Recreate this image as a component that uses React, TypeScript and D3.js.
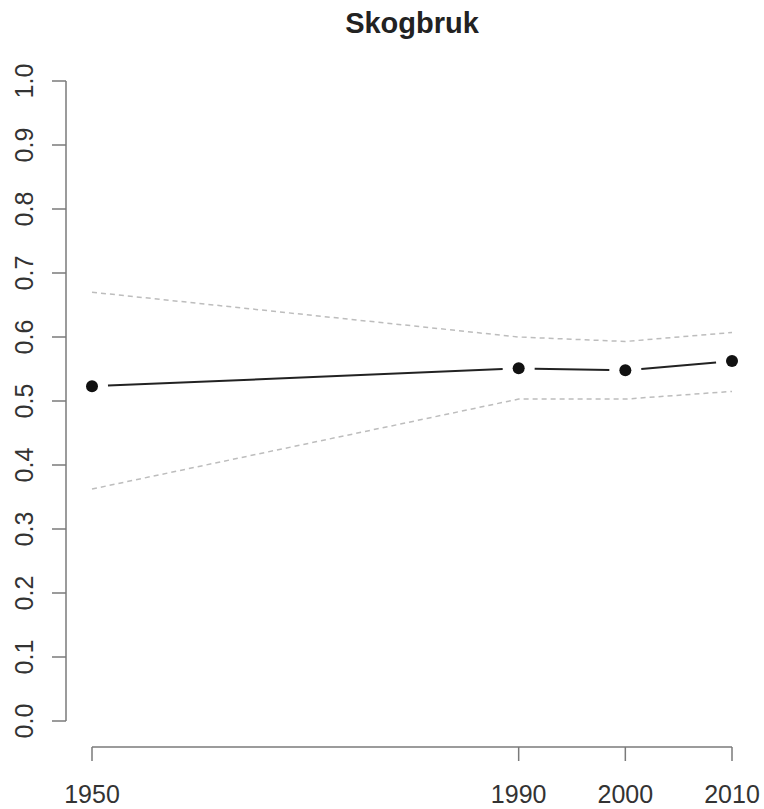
import React from "react";
import * as d3 from "d3";

const years = [1950, 1990, 2000, 2010];
const estimate = [0.523, 0.551, 0.548, 0.5625];
const upper = [0.670, 0.600, 0.593, 0.607];
const lower = [0.3625, 0.503, 0.503, 0.515];
const yTicks = [0, 0.1, 0.2, 0.3, 0.4, 0.5, 0.6, 0.7, 0.8, 0.9, 1.0];
const title = "Skogbruk";

const W = 764;
const H = 809;

export default function App() {
  const x = d3.scaleLinear().domain([1950, 2010]).range([92, 732]);
  const y = d3.scaleLinear().domain([0, 1]).range([721, 81]);
  const axisColor = "#7a7a7a";
  const textColor = "#333";
  const font = "'Liberation Sans', Arial, Helvetica, sans-serif";

  const dashedLine = d3
    .line<number>()
    .x((_, i) => x(years[i]))
    .y((d) => y(d));

  const gap = 16;
  const segments = years.slice(0, -1).map((yr, i) => {
    const x0 = x(yr), y0 = y(estimate[i]);
    const x1 = x(years[i + 1]), y1 = y(estimate[i + 1]);
    const dx = x1 - x0, dy = y1 - y0;
    const len = Math.sqrt(dx * dx + dy * dy);
    const ux = dx / len, uy = dy / len;
    return {
      x1: x0 + ux * gap,
      y1: y0 + uy * gap,
      x2: x1 - ux * gap,
      y2: y1 - uy * gap,
    };
  });

  const axisX = 66;
  const axisY = 747;

  return (
    <svg
      width={W}
      height={H}
      style={{ position: "absolute", left: 0, top: 0, background: "#fff" }}
      fontFamily={font}
    >
      <rect width={W} height={H} fill="#fff" />
      <text
        x={412}
        y={33}
        textAnchor="middle"
        fontSize={29}
        fontWeight="bold"
        fill="#222"
      >
        {title}
      </text>

      {/* y axis */}
      <line x1={axisX} x2={axisX} y1={y(0)} y2={y(1)} stroke={axisColor} strokeWidth={1.5} />
      {yTicks.map((t) => (
        <g key={t}>
          <line x1={axisX - 14} x2={axisX} y1={y(t)} y2={y(t)} stroke={axisColor} strokeWidth={1.5} />
          <text
            transform={`translate(33,${y(t)}) rotate(-90)`}
            textAnchor="middle"
            fontSize={25}
            fill={textColor}
          >
            {t.toFixed(1)}
          </text>
        </g>
      ))}

      {/* x axis */}
      <line x1={x(1950)} x2={x(2010)} y1={axisY} y2={axisY} stroke={axisColor} strokeWidth={1.5} />
      {years.map((yr) => (
        <g key={yr}>
          <line x1={x(yr)} x2={x(yr)} y1={axisY} y2={axisY + 14} stroke={axisColor} strokeWidth={1.5} />
          <text x={x(yr)} y={803} textAnchor="middle" fontSize={25} fill={textColor}>
            {yr}
          </text>
        </g>
      ))}

      {/* confidence bands */}
      <path d={dashedLine(upper) || ""} fill="none" stroke="#bdbdbd" strokeWidth={1.5} strokeDasharray="5 4" />
      <path d={dashedLine(lower) || ""} fill="none" stroke="#bdbdbd" strokeWidth={1.5} strokeDasharray="5 4" />

      {/* estimate line */}
      {segments.map((s, i) => (
        <line key={i} {...s} stroke="#222" strokeWidth={2} />
      ))}
      {years.map((yr, i) => (
        <circle key={yr} cx={x(yr)} cy={y(estimate[i])} r={6} fill="#111" />
      ))}
    </svg>
  );
}
